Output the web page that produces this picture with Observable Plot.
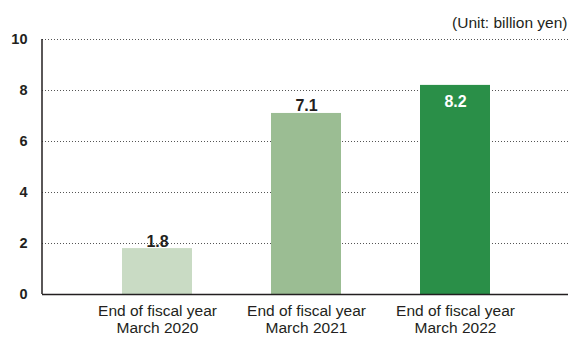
<!DOCTYPE html>
<html>
<head>
<meta charset="utf-8">
<script src="https://cdn.jsdelivr.net/npm/d3@7"></script>
<script src="https://cdn.jsdelivr.net/npm/@observablehq/plot@0.6"></script>
<style>
  html, body { margin: 0; padding: 0; background: #fff; }
  #chart svg { display: block; }
</style>
</head>
<body>
<div id="chart"></div>
<script>
const categories = ["End of fiscal year\nMarch 2020", "End of fiscal year\nMarch 2021", "End of fiscal year\nMarch 2022"];
const values = [1.8, 7.1, 8.2];
const yTicks = [0, 2, 4, 6, 8, 10];
const unitLabel = "(Unit: billion yen)";

const colors = ["#c9dbc4", "#9bbd93", "#2a8f48"];
const data = categories.map((c, i) => ({cat: c, value: values[i], i}));

const font = "'Liberation Sans', Arial, Helvetica, sans-serif";
const ink = "#231f20";
const marginLeft = 42, marginTop = 39, marginBottom = 43, W = 568, H = 337;

const axisLine = (index, scales, values, dims) => {
  const g = document.createElementNS("http://www.w3.org/2000/svg", "line");
  g.setAttribute("x1", dims.marginLeft);
  g.setAttribute("x2", dims.marginLeft);
  g.setAttribute("y1", dims.marginTop);
  g.setAttribute("y2", dims.height - dims.marginBottom);
  g.setAttribute("stroke", ink);
  g.setAttribute("stroke-width", 1.5);
  return g;
};

const chart = Plot.plot({
  width: W,
  height: H,
  marginLeft,
  marginRight: 0,
  marginTop,
  marginBottom,
  style: {fontFamily: font, background: "#fff", overflow: "visible"},
  x: {domain: categories, range: [81.25, 529.75], padding: 0.532, paddingOuter: 0.266, label: null},
  y: {domain: [0, 10], label: null},
  color: {domain: categories, range: colors},
  marks: [
    Plot.ruleY(yTicks.filter(d => d > 0), {y: d => d, stroke: "#555", strokeWidth: 1, strokeDasharray: "1,2"}),
    Plot.barY(data, {x: "cat", y: "value", fill: "cat"}),
    Plot.text(data.filter(d => d.i < 2), {x: "cat", y: "value", text: d => d.value.toFixed(1), lineAnchor: "bottom", dy: -2, fontSize: 16, fontWeight: "bold", fill: ink}),
    Plot.text(data.filter(d => d.i === 2), {x: "cat", y: "value", text: d => d.value.toFixed(1), lineAnchor: "top", dy: 10, fontSize: 16, fontWeight: "bold", fill: "#fff"}),
    Plot.axisY({ticks: yTicks, tickSize: 0, tickPadding: 15, fontSize: 14.5, fontWeight: "bold", fill: ink, label: null}),
    Plot.axisX({tickSize: 0, tickPadding: 9, fontSize: 15.5, fill: ink, lineHeight: 1.1, label: null}),
    Plot.ruleY([0], {stroke: ink, strokeWidth: 1.5}),
    axisLine,
    Plot.text([unitLabel], {frameAnchor: "top-right", dy: -23, dx: -1, fontSize: 15.5, fill: ink})
  ]
});
document.getElementById("chart").appendChild(chart);
</script>
</body>
</html>
